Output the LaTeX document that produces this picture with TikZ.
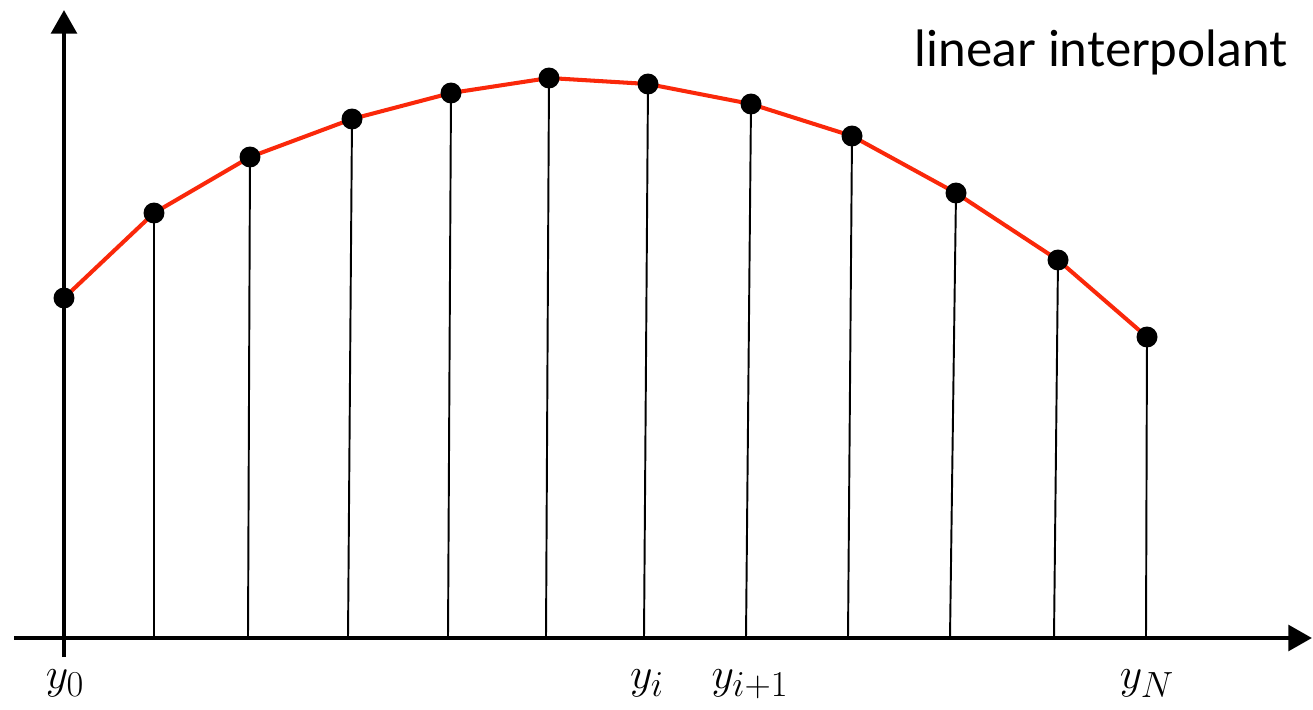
\documentclass[tikz,border=0pt]{standalone}
\usepackage{fontspec}
\newfontfamily\labelfont{Lato}
\usetikzlibrary{arrows.meta}
\definecolor{interp}{RGB}{250,40,10}
\tikzset{
  axis/.style={line width=2.6pt,-{Triangle[length=13.5pt,width=14.5pt]}},
  stem/.style={line width=1.1pt,black},
  interpline/.style={line width=2.3pt,interp,line join=round},
  dot/.style={circle,fill=black,inner sep=0pt,minimum size=0.42cm},
  lab/.style={anchor=base,inner sep=0pt,font=\fontsize{32}{38}\selectfont},
}
\begin{document}
\begin{tikzpicture}[x=0.02cm,y=-0.02cm]
\useasboundingbox (0,0) rectangle (1313,710);
% axes
\coordinate (xs) at (14,638);
\coordinate (xe) at (1312,638);
\coordinate (ys) at (64,657);
\coordinate (ye) at (64,10);
\draw[axis] (xs) -- (xe);
\draw[axis] (ys) -- (ye);
% bottoms of stems
\foreach \n/\bx in {1/154,2/248,3/348,4/448,5/546,6/644,7/746,8/848,9/950,10/1054,11/1146}
  \coordinate (b\n) at (\bx,638);
% sample points
\coordinate (p0) at (64,298);
\coordinate (p1) at (154,213);
\coordinate (p2) at (250,157);
\coordinate (p3) at (352,119);
\coordinate (p4) at (451,93);
\coordinate (p5) at (549,78);
\coordinate (p6) at (648,84);
\coordinate (p7) at (751,104);
\coordinate (p8) at (852,136);
\coordinate (p9) at (956,193);
\coordinate (p10) at (1058,260);
\coordinate (p11) at (1147,337);
% stems
\foreach \n in {1,...,11}
  \draw[stem] (b\n) -- (p\n);
% interpolant
\draw[interpline] (p0) -- (p1) -- (p2) -- (p3) -- (p4) -- (p5) -- (p6) -- (p7) -- (p8) -- (p9) -- (p10) -- (p11);
% dots
\foreach \n in {0,...,11}
  \node[dot] (d\n) at (p\n) {};
% labels
\node[lab] (l0) at (65,688) {$y_0$};
\node[lab] (li) at (647,688) {$y_i$};
\node[lab] (li1) at (750,688) {$y_{i+1}$};
\node[lab] (lN) at (1147,688) {$y_N$};
\node[anchor=base,inner sep=0pt,font=\labelfont\fontsize{28.3}{34}\selectfont] (title) at (1101,67) {linear interpolant};
\end{tikzpicture}
\end{document}
